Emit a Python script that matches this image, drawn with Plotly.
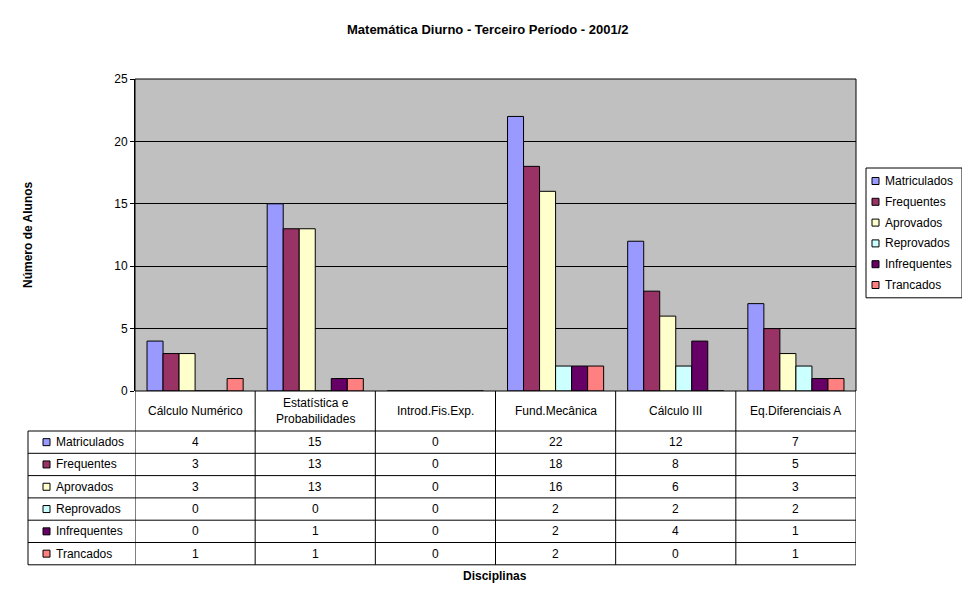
import plotly.graph_objects as go

categories = ["Cálculo Numérico", "Estatística e<br>Probabilidades", "Introd.Fis.Exp.",
              "Fund.Mecânica", "Cálculo III", "Eq.Diferenciais A"]
series_names = ["Matriculados", "Frequentes", "Aprovados", "Reprovados", "Infrequentes", "Trancados"]
matriculados = [4, 15, 0, 22, 12, 7]
frequentes = [3, 13, 0, 18, 8, 5]
aprovados = [3, 13, 0, 16, 6, 3]
reprovados = [0, 0, 0, 2, 2, 2]
infrequentes = [0, 1, 0, 2, 4, 1]
trancados = [1, 1, 0, 2, 0, 1]
series_values = [matriculados, frequentes, aprovados, reprovados, infrequentes, trancados]
colors = ["#9999FF", "#993366", "#FFFFCC", "#CCFFFF", "#660066", "#FF8080"]
y_ticks = [0, 5, 10, 15, 20, 25]

W, H = 970, 603
OX, OY = 8, 8  # page body margin
L, R, T, B = 135, 856, 79, 391
def py(y):
    return (B - y) / (B - T)
def px(x):
    return (x - L) / (R - L)

FONT = "Liberation Sans, Arial, sans-serif"
fig = go.Figure()
xs = list(range(len(categories)))
for name, vals, c in zip(series_names, series_values, colors):
    fig.add_bar(x=xs, y=vals, name=name, marker=dict(color=c, line=dict(color="black", width=1)))

shapes, ann = [], []
line = dict(color="black", width=1)
def txt(x, y, text, xref="paper", xanchor="center", **kw):
    d = dict(x=x, y=y, xref=xref, yref="paper", text=text, showarrow=False,
             xanchor=xanchor, yanchor="middle", font=dict(size=12, family=FONT, color="black"))
    d.update(kw)
    ann.append(d)

shapes.append(dict(type="rect", xref="paper", yref="paper", x0=0, x1=1, y0=0, y1=1, line=line))
row_top = 431
rh = 22.3
n = len(series_names)
bottom = row_top + rh * n
shapes.append(dict(type="line", xref="paper", yref="paper", x0=px(28), x1=1, y0=py(bottom), y1=py(bottom), line=line))
for i in range(n):
    y = row_top + rh * i
    shapes.append(dict(type="line", xref="paper", yref="paper", x0=px(28), x1=1, y0=py(y), y1=py(y), line=line))
shapes.append(dict(type="line", xref="paper", yref="paper", x0=px(28), x1=px(28), y0=py(row_top), y1=py(bottom), line=line))
for k in range(len(categories) + 1):
    xb = k - 0.5
    shapes.append(dict(type="line", xref="x", yref="paper", x0=xb, x1=xb, y0=0, y1=py(bottom), line=line))
for k, cat in enumerate(categories):
    txt(k, py(411), cat, xref="x")
for i, (name, vals, c) in enumerate(zip(series_names, series_values, colors)):
    yc = row_top + rh * i + rh / 2
    shapes.append(dict(type="rect", xref="paper", yref="paper", x0=px(43), x1=px(50),
                       y0=py(yc + 3.5), y1=py(yc - 3.5), fillcolor=c, line=line))
    txt(px(54), py(yc), name, xanchor="left")
    for k, v in enumerate(vals):
        txt(k, py(yc), str(v), xref="x")

# manual legend
lx0, lx1, ly0 = 866, 962, 168
lh = 20.8
shapes.append(dict(type="rect", xref="paper", yref="paper", x0=px(lx0), x1=px(lx1),
                   y0=py(ly0), y1=py(ly0 + lh * n + 5), line=line, fillcolor="white"))
for i, (name, c) in enumerate(zip(series_names, colors)):
    yc = ly0 + 13 + lh * i
    shapes.append(dict(type="rect", xref="paper", yref="paper", x0=px(872), x1=px(879),
                       y0=py(yc + 3.5), y1=py(yc - 3.5), fillcolor=c, line=line))
    txt(px(883), py(yc), name, xanchor="left")

txt(px(495), py(576), "<b>Disciplinas</b>")
txt(px(28), py(235), "<b>Número de Alunos</b>", textangle=-90)
txt(px(488), py(30), "<b>Matemática Diurno - Terceiro Período - 2001/2</b>",
    font=dict(size=13, family=FONT, color="black"))

fig.update_layout(
    width=W, height=H, autosize=False,
    margin=dict(l=L - OX, r=W - R + OX, t=T - OY, b=H - B + OY),
    paper_bgcolor="white", plot_bgcolor="#C0C0C0",
    barmode="group", bargap=0.2, bargroupgap=0,
    xaxis=dict(range=[-0.5, len(categories) - 0.5], showticklabels=False, showgrid=False, zeroline=False),
    yaxis=dict(range=[0, 25], tickvals=y_ticks, showgrid=True, gridcolor="black", gridwidth=1,
               zeroline=False, ticks="outside", ticklen=4, tickcolor="black", showline=True, linecolor="black",
               tickfont=dict(size=12, family=FONT, color="black")),
    shapes=shapes, annotations=ann, showlegend=False,
)
fig.write_html("out.html")
